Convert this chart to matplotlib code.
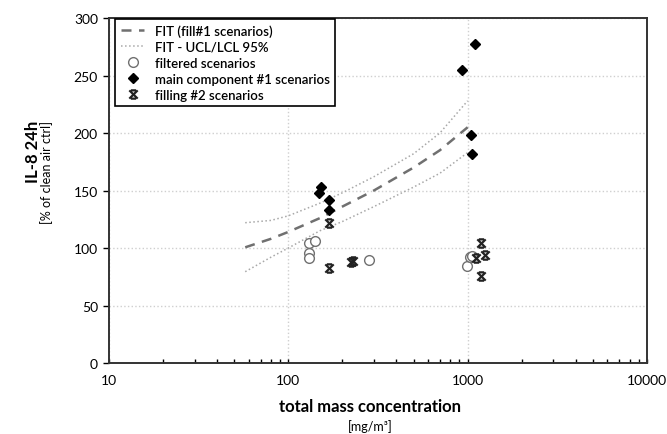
import matplotlib
matplotlib.use("Agg")
import matplotlib.pyplot as plt
from matplotlib.path import Path

plt.rcParams['font.family'] = ['Lato', 'DejaVu Sans']

# fit curve and confidence band
fit_x = [57.5, 80, 100, 150, 200, 300, 500, 700, 1000]
fit_y = [100.6, 108, 114, 126, 136, 150, 170, 185, 205]
ucl_y = [122, 124, 128, 139, 148, 162, 182, 200, 228]
lcl_y = [79.4, 92, 100, 115, 123, 136, 153, 165, 183]

# scenario points
filt_x = [130, 140, 130, 130, 280, 990, 1030, 1060]
filt_y = [104, 106, 96, 91, 90, 84, 92, 93]
main_x = [153, 149, 168, 168, 929, 1094, 1050, 1052]
main_y = [153, 148, 142, 133, 255, 277, 198, 182]
fill_x = [169, 169, 225, 230, 1110, 1183, 1250, 1183]
fill_y = [122, 83, 88, 89, 91, 104, 94, 76]

# cross marker with short bars top and bottom
hg = Path([(-1, -1), (1, 1), (-1, 1), (1, -1), (-0.6, 1), (0.6, 1), (-0.6, -1), (0.6, -1)],
          [Path.MOVETO, Path.LINETO, Path.MOVETO, Path.LINETO,
           Path.MOVETO, Path.LINETO, Path.MOVETO, Path.LINETO])

fig = plt.figure(figsize=(6.67, 4.35), dpi=100)
ax = fig.add_axes([0.1634, 0.1632, 0.8066, 0.7931])

ax.plot(fit_x, fit_y, color='#707070', lw=1.8, dashes=(4, 3), label='FIT (fill#1 scenarios)')
ax.plot(fit_x, ucl_y, color='#a8a8a8', lw=1.1, ls=':', label='FIT - UCL/LCL 95%')
ax.plot(fit_x, lcl_y, color='#a8a8a8', lw=1.1, ls=':')
ax.plot(filt_x, filt_y, 'o', ms=7, mfc='white', mec='#707070', mew=1.0, ls='none',
        label='filtered scenarios')
ax.plot(main_x, main_y, 'D', ms=5.5, color='black', ls='none', label='main component #1 scenarios')
ax.plot(fill_x, fill_y, marker=hg, ms=6, mec='#222222', mew=1.6, ls='none',
        label='filling #2 scenarios')

ax.set_xscale('log')
ax.set_xlim(10, 10000)
ax.set_ylim(0, 300)
ax.set_yticks(range(0, 301, 50))
ax.set_xticks([10, 100, 1000, 10000])
ax.set_xticklabels(['10', '100', '1000', '10000'])
ax.grid(True, which='major', color='#cfcfcf', lw=1.0, ls=':')
ax.set_axisbelow(True)
ax.tick_params(axis='x', which='both', direction='in', length=3, width=1, pad=8, labelsize=10)
ax.tick_params(axis='y', direction='out', length=4, width=1, labelsize=10, pad=4)
for s in ax.spines.values():
    s.set_linewidth(1.4)
    s.set_color('#333333')

leg = ax.legend(loc='upper left', bbox_to_anchor=(0.012, 0.997), borderaxespad=0,
                fancybox=False, framealpha=1, edgecolor='black', fontsize=9.5,
                handlelength=1.8, labelspacing=0.3, borderpad=0.4)
leg.get_frame().set_linewidth(1.2)
for t in leg.get_texts():
    t.set_fontweight('semibold')

fig.text(33 / 667, 1 - 152 / 435, 'IL-8 24h', rotation=90, ha='center', va='center',
         fontsize=12, fontweight='bold')
fig.text(47 / 667, 1 - 172 / 435, '[% of clean air ctrl]', rotation=90, ha='center',
         va='center', fontsize=9)
fig.text(370 / 667, 1 - 407 / 435, 'total mass concentration', ha='center', va='center',
         fontsize=12, fontweight='bold')
fig.text(370 / 667, 1 - 427 / 435, '[mg/m³]', ha='center', va='center', fontsize=9)

fig.savefig('out.png', dpi=100)
